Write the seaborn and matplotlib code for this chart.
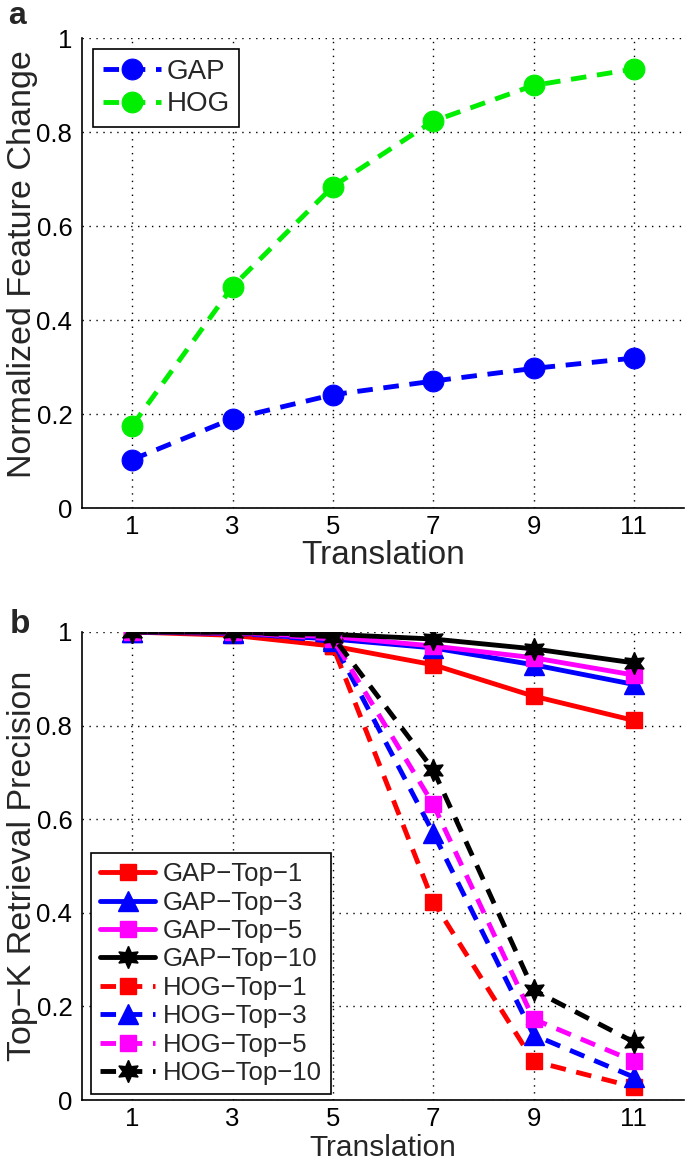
import numpy as np
import pandas as pd
import matplotlib
matplotlib.use("Agg")
import matplotlib.pyplot as plt
from matplotlib.ticker import FuncFormatter
import seaborn as sns

# panel a: normalized feature change vs translation
translation = [1, 3, 5, 7, 9, 11]
gap_change = [0.103, 0.19, 0.241, 0.27, 0.297, 0.319]
hog_change = [0.175, 0.471, 0.684, 0.823, 0.899, 0.934]

# panel b: top-K retrieval precision
gap_top1 = [1.0, 0.993, 0.97, 0.93, 0.863, 0.811]
gap_top3 = [1.0, 0.997, 0.985, 0.966, 0.93, 0.888]
gap_top5 = [1.0, 0.998, 0.99, 0.97, 0.945, 0.908]
gap_top10 = [1.0, 0.999, 0.995, 0.985, 0.964, 0.934]
hog_top1 = [1.0, 1.0, 0.97, 0.424, 0.083, 0.028]
hog_top3 = [1.0, 1.0, 0.98, 0.571, 0.139, 0.049]
hog_top5 = [1.0, 1.0, 0.985, 0.632, 0.173, 0.083]
hog_top10 = [1.0, 1.0, 0.99, 0.706, 0.235, 0.124]

sns.set_style("white")
plt.rcParams['font.family'] = ['Liberation Sans', 'DejaVu Sans']
plt.rcParams['axes.unicode_minus'] = True

W, H = 685, 1167
fig = plt.figure(figsize=(W / 100, H / 100), dpi=100)

def px_axes(left, top, right, bottom):
    return fig.add_axes([left / W, 1 - bottom / H, (right - left) / W, (bottom - top) / H])

ax_a = px_axes(82, 38, 684, 508)
ax_b = px_axes(82, 632, 684, 1100)

dash = (0, (3.2, 2.2))
hexagram = (6, 1, 0)

# panel a
sns.lineplot(x=translation, y=gap_change, ax=ax_a, color="#0000ff", linestyle=dash, lw=3.5,
             marker="o", markersize=15, markeredgecolor="#0000ff", label="GAP")
sns.lineplot(x=translation, y=hog_change, ax=ax_a, color="#00ee00", linestyle=dash, lw=3.5,
             marker="o", markersize=15, markeredgecolor="#00ee00", label="HOG")

# panel b
series_b = [
    ("GAP\u2212Top\u22121", gap_top1, "#ff0000", "s", "-", 12),
    ("GAP\u2212Top\u22123", gap_top3, "#0000ff", "^", "-", 14),
    ("GAP\u2212Top\u22125", gap_top5, "#ff00ff", "s", "-", 12),
    ("GAP\u2212Top\u221210", gap_top10, "#000000", hexagram, "-", 16),
    ("HOG\u2212Top\u22121", hog_top1, "#ff0000", "s", dash, 12),
    ("HOG\u2212Top\u22123", hog_top3, "#0000ff", "^", dash, 14),
    ("HOG\u2212Top\u22125", hog_top5, "#ff00ff", "s", dash, 12),
    ("HOG\u2212Top\u221210", hog_top10, "#000000", hexagram, dash, 16),
]
for name, vals, col, mk, ls, ms in series_b:
    sns.lineplot(x=translation, y=vals, ax=ax_b, color=col, linestyle=ls, lw=3.5,
                 marker=mk, markersize=ms, markeredgecolor=col, markeredgewidth=1,
                 label=name)

fmt = FuncFormatter(lambda v, p: f"{v:g}")
for ax in (ax_a, ax_b):
    ax.set_xlim(0, 12)
    ax.set_ylim(0, 1)
    ax.set_xticks(translation)
    ax.set_yticks([0, 0.2, 0.4, 0.6, 0.8, 1])
    ax.yaxis.set_major_formatter(fmt)
    ax.grid(True, linestyle=(0, (1, 4)), color="k", linewidth=1.0)
    ax.set_axisbelow(True)
    for s in ("top", "right"):
        ax.spines[s].set_visible(False)
    for s in ("left", "bottom"):
        ax.spines[s].set_color("k")
        ax.spines[s].set_linewidth(1.2)
    ax.tick_params(direction="in", length=5, width=1, labelsize=18.5, colors="k")
    ax.tick_params(axis="y", pad=7)
    ax.tick_params(axis="x", pad=5)

ax_a.set_xlabel("Translation", fontsize=24)
ax_b.set_xlabel("Translation", fontsize=21.5)
ax_a.set_ylabel("Normalized Feature Change", fontsize=24.5)
ax_b.set_ylabel("Top\u2212K Retrieval Precision", fontsize=24.5)
ax_a.yaxis.set_label_coords(-44 / 602, 0.52)
ax_b.yaxis.set_label_coords(-44 / 602, 0.5)
ax_a.xaxis.set_label_coords(0.5, -32 / 470)
ax_b.xaxis.set_label_coords(0.5, -33.5 / 468)

leg_a = ax_a.legend(loc="upper left", bbox_to_anchor=(0.018, 0.977), borderaxespad=0,
                    fontsize=20, handlelength=2.1, handletextpad=0.2, borderpad=0.35,
                    labelspacing=0.25, frameon=True, fancybox=False, edgecolor="k",
                    framealpha=1)
leg_a.get_frame().set_linewidth(1.2)

leg_b = ax_b.legend(loc="lower left", bbox_to_anchor=(0.015, 0.013), borderaxespad=0,
                    fontsize=18.5, handlelength=2.15, handletextpad=0.3, borderpad=0.35,
                    labelspacing=0.17, frameon=True, fancybox=False, edgecolor="k",
                    framealpha=1)
leg_b.get_frame().set_linewidth(1.2)

fig.text(8 / W, 1 - 1 / H, "a", fontsize=23, fontweight="bold", va="top", ha="left")
fig.text(10 / W, 1 - 633 / H, "b", fontsize=24, fontweight="bold", va="baseline", ha="left")

fig.savefig("out.png", dpi=100)
